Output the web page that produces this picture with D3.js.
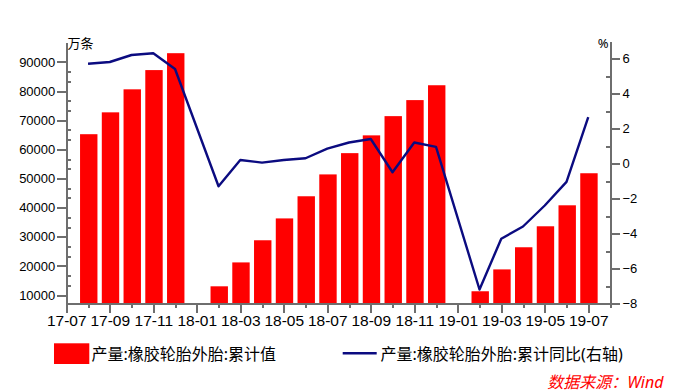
<!DOCTYPE html>
<html>
<head>
<meta charset="utf-8">
<script src="https://cdn.jsdelivr.net/npm/d3@7"></script>
<style>
  body { margin: 0; background: #fff; }
  svg { display: block; font-family: "Noto Sans", "Noto Sans CJK SC", sans-serif; }
  .axis path, .axis line { stroke: #6e6e6e; stroke-width: 2; shape-rendering: crispEdges; }
  .axis text { fill: #000; }
</style>
</head>
<body>
<svg id="chart" width="673" height="392"></svg>
<script>
// monthly categories, 17-07 .. 19-08
const months = ['17-07','17-08','17-09','17-10','17-11','17-12','18-01','18-02','18-03','18-04',
  '18-05','18-06','18-07','18-08','18-09','18-10','18-11','18-12','19-01','19-02','19-03',
  '19-04','19-05','19-06','19-07','19-08'];

// 产量:橡胶轮胎外胎:累计值 (万条)
const output = [null, 65200, 72700, 80600, 87200, 93000, null, 13000, 21200, 28800,
  36300, 43900, 51400, 58700, 64800, 71400, 76900, 82000, null, 11300, 18800,
  26400, 33600, 40800, 51800, null];

// 产量:橡胶轮胎外胎:累计同比 (%)
const yoy = [null, 5.7, 5.8, 6.2, 6.3, 5.4, null, -1.3, 0.2, 0.05,
  0.2, 0.3, 0.85, 1.2, 1.4, -0.5, 1.2, 0.95, null, -7.2, -4.3,
  -3.6, -2.4, -1.05, 2.65, null];

const leftTicks = [10000, 20000, 30000, 40000, 50000, 60000, 70000, 80000, 90000];
const rightTicks = [-8, -6, -4, -2, 0, 2, 4, 6];
const xLabels = months.filter((d, i) => i % 2 === 0 && i < 25);

const legendBar = '产量:橡胶轮胎外胎:累计值';
const legendLine = '产量:橡胶轮胎外胎:累计同比(右轴)';

const svg = d3.select('#chart');

const x = d3.scalePoint().domain(months).range([66.3, 610]);
const yL = d3.scaleLinear().domain([7100, 96600]).range([303.5, 42.7]);
const yR = d3.scaleLinear().domain([-8, 7]).range([303.5, 41]);
const bw = 17.4;

// bars
svg.append('g')
  .selectAll('rect')
  .data(months.map((m, i) => ({m, v: output[i]})).filter(d => d.v != null))
  .enter().append('rect')
  .attr('x', d => x(d.m) - bw / 2 + 0.7)
  .attr('width', bw)
  .attr('y', d => yL(d.v))
  .attr('height', d => yL.range()[0] - yL(d.v))
  .attr('fill', '#ff0000');

// line, gaps bridged like the original
const pts = months.map((m, i) => ({m, v: yoy[i]})).filter(d => d.v != null);
svg.append('path')
  .datum(pts)
  .attr('fill', 'none')
  .attr('stroke', '#0b0b80')
  .attr('stroke-width', 2.4)
  .attr('stroke-linejoin', 'round')
  .attr('d', d3.line().x(d => x(d.m)).y(d => yR(d.v)));

// left axis: majors outside, minors (thirds) inside
const leftMinor = d3.range(1, 27).map(i => 10000 * i / 3)
  .filter(d => d > 7100 && d < 96600 && Math.round(d) % 10000 !== 0);
const gl = svg.append('g').attr('class', 'axis').attr('transform', 'translate(66.3,0)');
gl.call(d3.axisLeft(yL).tickValues(leftTicks).tickSize(9).tickSizeOuter(0).tickPadding(2).tickFormat(d3.format('d')));
gl.selectAll('text').style('font-size', '13px');
svg.append('g').attr('class', 'axis').attr('transform', 'translate(66.3,0)')
  .call(d3.axisLeft(yL).tickValues(leftMinor).tickSize(-5).tickSizeOuter(0).tickFormat(''))
  .select('.domain').remove();

// right axis
const gr = svg.append('g').attr('class', 'axis').attr('transform', 'translate(610.5,0)');
gr.call(d3.axisRight(yR).tickValues(rightTicks).tickSize(9).tickSizeOuter(0).tickPadding(3).tickFormat(d3.format('d')));
gr.selectAll('text').style('font-size', '13px');
svg.append('g').attr('class', 'axis').attr('transform', 'translate(610.5,0)')
  .call(d3.axisRight(yR).tickValues([-7, -5, -3, -1, 1, 3, 5]).tickSize(-5).tickSizeOuter(0).tickFormat(''))
  .select('.domain').remove();

// x axis, long ticks on labelled months
const gx = svg.append('g').attr('class', 'axis').attr('transform', 'translate(0,303.5)');
gx.call(d3.axisBottom(x).tickSizeOuter(0).tickSize(9).tickPadding(2)
  .tickFormat(d => xLabels.indexOf(d) >= 0 ? d : ''));
gx.select('.domain').attr('d', 'M66.3,0H611.5');
gx.selectAll('.tick').filter(d => xLabels.indexOf(d) < 0).select('line').attr('y2', 4);
gx.selectAll('text').style('font-size', '15.5px');

// axis units
svg.append('text').attr('x', 67.5).attr('y', 48).style('font-size', '13px').text('万条');
svg.append('text').attr('x', 608.5).attr('y', 48).attr('text-anchor', 'end').style('font-size', '13px').text('%');

// legend
svg.append('rect').attr('x', 54).attr('y', 343.3).attr('width', 35.3).attr('height', 20.7).attr('fill', '#ff0000');
svg.append('text').attr('x', 91.5).attr('y', 359.5).style('font-size', '16px').text(legendBar);
svg.append('line').attr('x1', 342.7).attr('x2', 376.7).attr('y1', 353.3).attr('y2', 353.3)
  .attr('stroke', '#0b0b80').attr('stroke-width', 2.4);
svg.append('text').attr('x', 380.5).attr('y', 359.5).style('font-size', '16px').text(legendLine);

// source
svg.append('text').attr('x', 663.5).attr('y', 388).attr('text-anchor', 'end')
  .style('font-size', '16px').style('font-style', 'italic').attr('fill', '#ff0000')
  .text('数据来源：Wind');
</script>
</body>
</html>
